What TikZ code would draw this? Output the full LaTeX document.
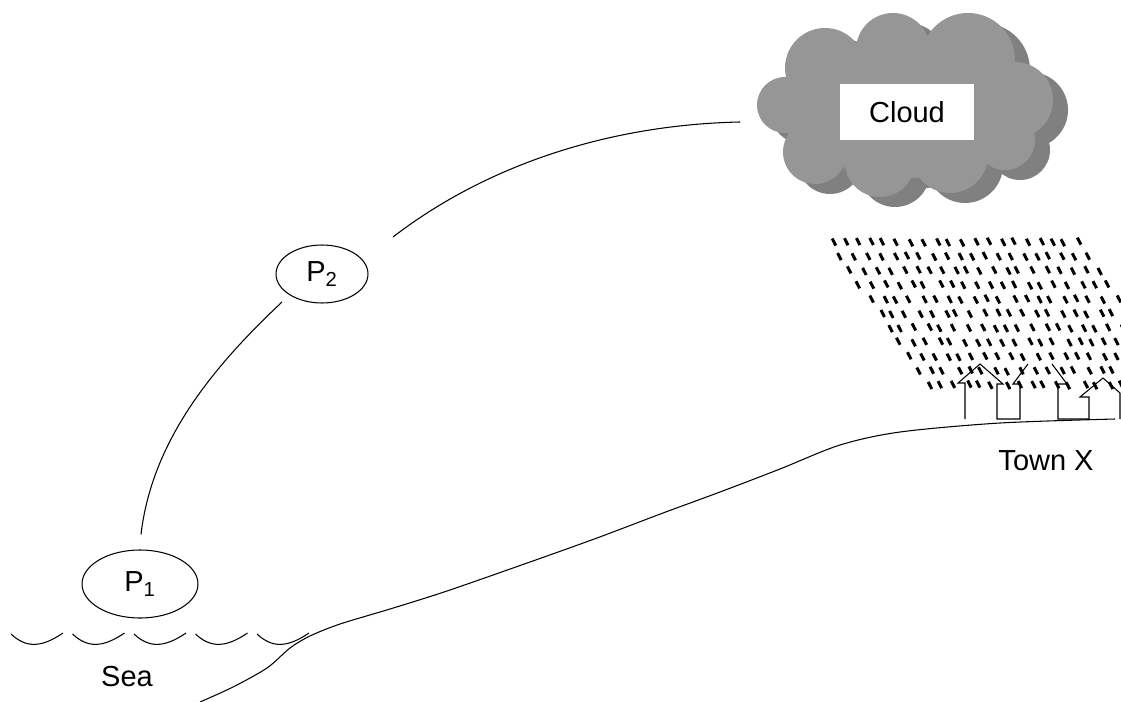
\documentclass[tikz,border=0pt]{standalone}
\usepackage{fontspec}
\setmainfont{Liberation Sans}
\usetikzlibrary{positioning,shapes.geometric}
\definecolor{cloudlight}{RGB}{150,150,150}
\definecolor{cloudshade}{RGB}{128,128,128}

\begin{document}
\begin{tikzpicture}[
    x=0.02cm, y=-0.02cm,
    bubble/.style={ellipse, draw, line width=0.6pt, inner sep=0pt, font=\fontsize{16.5}{19}\selectfont},
    tag/.style={inner sep=0pt, font=\fontsize{16.5}{19}\selectfont},
    route/.style={line width=0.6pt},
    fine/.style={line width=0.6pt},
    drop/.style={line width=1.7pt}
]
    \useasboundingbox (0,0) rectangle (1121,702);

    % cloud: shadow first, then the lighter puffs on top
    \fill[cloudshade] (920,118) ellipse [x radius=115, y radius=70];
    \foreach \cx/\cy/\r in {785/105/28, 825/68/40, 893/50/37, 968/60/47, 1015/100/38,
                            1005/140/30, 950/155/38, 880/162/35, 815/152/32}
        \fill[cloudshade] (\cx+15,\cy+10) circle (\r);
    \fill[cloudlight] (905,108) ellipse [x radius=115, y radius=70];
    \foreach \cx/\cy/\r in {785/105/28, 825/68/40, 893/50/37, 968/60/47, 1015/100/38,
                            1005/140/30, 950/155/38, 880/162/35, 815/152/32}
        \fill[cloudlight] (\cx,\cy) circle (\r);
    \node[tag, fill=white, minimum width=2.68cm, minimum height=1.14cm] (cloud) at (907,112) {Cloud};
    \coordinate (cloudedge) at (740,122);

    % the two parcels
    \node[bubble, minimum width=2.32cm, minimum height=1.36cm] (p1) at (140,584) {P\textsubscript{1}};
    \node[bubble, minimum width=1.84cm, minimum height=1.16cm] (p2) at (322,274) {P\textsubscript{2}};

    \draw[route] ([shift={(1,-15)}]p1.north) .. controls +(11,-95) and +(-67,63) .. ([shift={(-40,28)}]p2.center);
    \draw[route] ([shift={(71,-37)}]p2.center) .. controls +(87,-67) and +(-140,3) .. (cloudedge);

    % sea waves
    \foreach \i in {0,...,4} {
        \pgfmathsetmacro\wx{11+61.5*\i}
        \draw[fine] (\wx,634) .. controls (\wx+15,648) and (\wx+30,648) .. (\wx+52,633);
    }
    \node[tag] (sea) at (127,677) {Sea};

    % land rising to the town
    \draw[fine] plot[smooth, tension=0.5] coordinates {
        (200,702) (233,687) (267,668) (290,648) (310,636) (340,624)
        (390,609) (447,591) (530,562) (597,538) (663,513) (720,492)
        (780,469) (840,445) (900,432) (1000,423) (1115,419)};

    % houses
    \draw[fine] (965,419) -- (965,383) -- (958,383) -- (980,364) -- (1003,384) -- (997,384)
        -- (997,419) -- (1020,419) -- (1020,384) -- (1013,384) -- (1028,364);
    \draw[fine] (1052,364) -- (1067,384) -- (1058,384) -- (1058,419) -- (1089,419) -- (1089,397)
        -- (1080,397) -- (1103,378) -- (1120,393) -- (1120,419);
    \node[tag] (town) at (1046,461) {Town X};

    % rain
    \begin{scope}
        \clip (800,225) rectangle (1121,400);
        \pgfmathsetseed{11}
        \foreach \row in {0,...,10} {
            \foreach \col in {0,...,19} {
                \pgfmathsetmacro\dx{832+9.6*\row+12.95*\col+3*rand}
                \pgfmathsetmacro\dy{242+14.3*\row+rand}
                \draw[drop] (\dx-1.8,\dy-3.5) -- (\dx+1.8,\dy+3.5);
            }
        }
    \end{scope}
\end{tikzpicture}
\end{document}
